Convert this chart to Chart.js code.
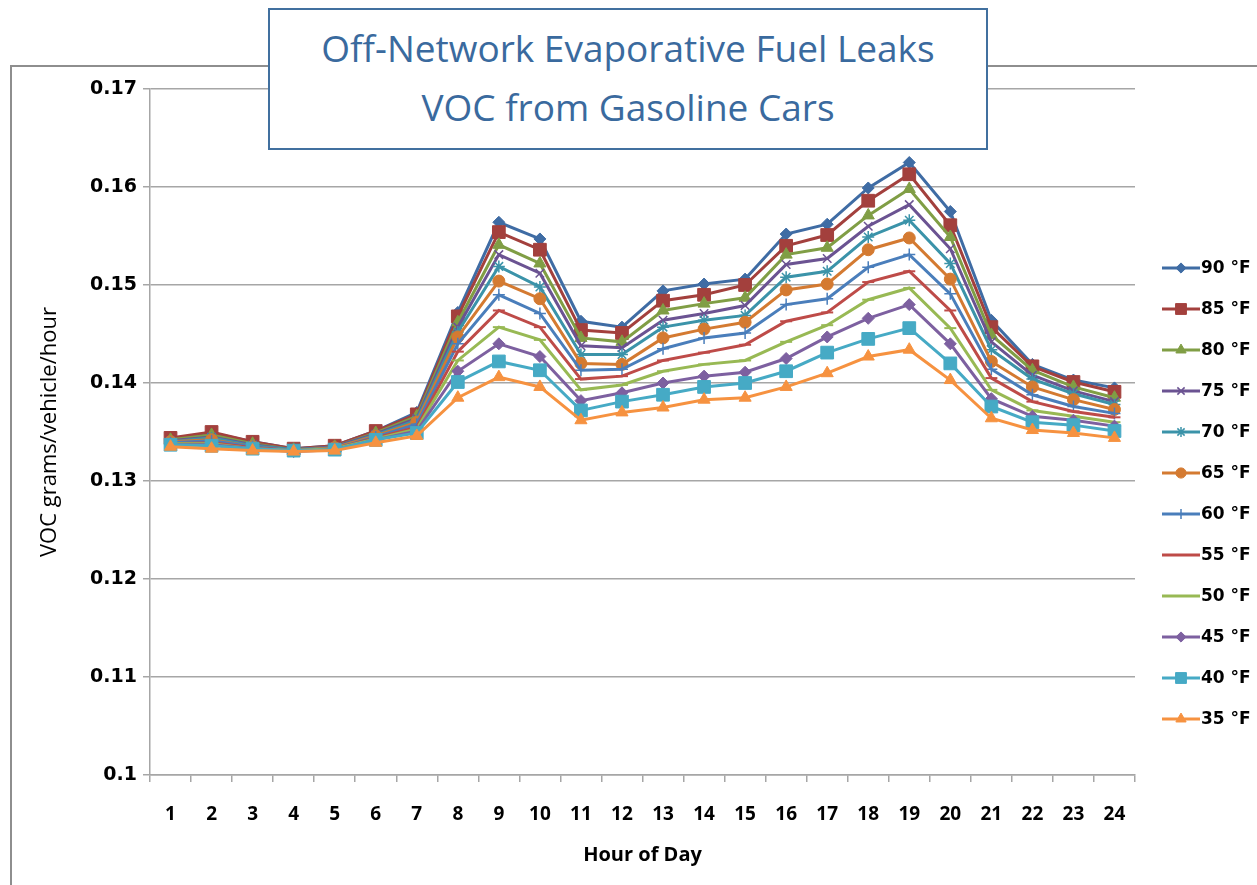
<!DOCTYPE html>
<html>
<head>
<meta charset="utf-8">
<title>Off-Network Evaporative Fuel Leaks</title>
<script src="https://cdn.jsdelivr.net/npm/chart.js"></script>
<style>
  html, body { margin: 0; padding: 0; background: #fff; overflow: hidden; }
  .frame {
    position: absolute; left: 10px; top: 65px; width: 1300px; height: 900px;
    border: 2px solid #8e8e8e;
  }
  .chart-wrap { position: absolute; left: 0; top: 0; width: 1257px; height: 885px; }
  .title-box {
    position: absolute; left: 268px; top: 8px; width: 716px; height: 130px;
    border: 2px solid #41709f; background: #fff;
    color: #3a6a9e; font-family: "Open Sans", sans-serif; font-size: 37px;
    text-align: center; line-height: 59px; padding-top: 8px; box-sizing: content-box;
  }
</style>
</head>
<body>
<div class="frame"></div>
<div class="chart-wrap"><canvas id="vocChart"></canvas></div>
<div class="title-box">Off-Network Evaporative Fuel Leaks<br>VOC from Gasoline Cars</div>
<script>
// Hours of day and temperature series (VOC grams/vehicle/hour)
const hours = ['1','2','3','4','5','6','7','8','9','10','11','12','13','14','15','16','17','18','19','20','21','22','23','24'];
const yTicks = [0.1, 0.11, 0.12, 0.13, 0.14, 0.15, 0.16, 0.17];

const temp90 = [0.1343,0.1349,0.1340,0.1333,0.1336,0.1351,0.1370,0.1472,0.1564,0.1547,0.1463,0.1457,0.1494,0.1501,0.1506,0.1552,0.1562,0.1599,0.1625,0.1575,0.1464,0.1419,0.1403,0.1395];
const temp85 = [0.1344,0.1350,0.1340,0.1333,0.1336,0.1351,0.1368,0.1468,0.1554,0.1536,0.1454,0.1451,0.1484,0.1490,0.1500,0.1540,0.1551,0.1586,0.1613,0.1561,0.1457,0.1417,0.1401,0.1391];
const temp80 = [0.1342,0.1347,0.1338,0.1332,0.1335,0.1349,0.1366,0.1462,0.1541,0.1522,0.1446,0.1442,0.1474,0.1481,0.1487,0.1531,0.1538,0.1571,0.1598,0.1549,0.1449,0.1413,0.1396,0.1385];
const temp75 = [0.1341,0.1345,0.1337,0.1332,0.1335,0.1348,0.1364,0.1457,0.1531,0.1512,0.1438,0.1436,0.1464,0.1471,0.1479,0.1521,0.1527,0.1560,0.1582,0.1537,0.1442,0.1408,0.1392,0.1381];
const temp70 = [0.1340,0.1344,0.1336,0.1332,0.1334,0.1347,0.1362,0.1452,0.1519,0.1498,0.1429,0.1429,0.1457,0.1464,0.1469,0.1508,0.1514,0.1549,0.1566,0.1522,0.1434,0.1404,0.1389,0.1378];
const temp65 = [0.1340,0.1342,0.1335,0.1331,0.1334,0.1346,0.1360,0.1447,0.1504,0.1486,0.1420,0.1419,0.1446,0.1455,0.1462,0.1495,0.1501,0.1536,0.1548,0.1506,0.1422,0.1396,0.1383,0.1373];
const temp60 = [0.1339,0.1341,0.1335,0.1331,0.1333,0.1345,0.1358,0.1440,0.1490,0.1471,0.1413,0.1414,0.1435,0.1446,0.1451,0.1480,0.1486,0.1518,0.1531,0.1491,0.1414,0.1388,0.1376,0.1369];
const temp55 = [0.1338,0.1339,0.1334,0.1331,0.1333,0.1344,0.1355,0.1432,0.1474,0.1457,0.1404,0.1407,0.1423,0.1431,0.1439,0.1463,0.1472,0.1503,0.1514,0.1474,0.1405,0.1381,0.1371,0.1365];
const temp50 = [0.1338,0.1338,0.1333,0.1331,0.1333,0.1343,0.1353,0.1423,0.1457,0.1444,0.1393,0.1398,0.1412,0.1419,0.1423,0.1442,0.1459,0.1485,0.1497,0.1456,0.1393,0.1372,0.1366,0.1360];
const temp45 = [0.1337,0.1337,0.1333,0.1330,0.1332,0.1342,0.1351,0.1412,0.1440,0.1427,0.1382,0.1390,0.1400,0.1407,0.1411,0.1425,0.1447,0.1466,0.1480,0.1440,0.1384,0.1366,0.1362,0.1356];
const temp40 = [0.1337,0.1336,0.1333,0.1331,0.1332,0.1342,0.1349,0.1401,0.1422,0.1413,0.1372,0.1381,0.1388,0.1396,0.1400,0.1412,0.1431,0.1445,0.1456,0.1420,0.1376,0.1360,0.1357,0.1351];
const temp35 = [0.1335,0.1333,0.1331,0.1330,0.1331,0.1339,0.1346,0.1385,0.1406,0.1396,0.1362,0.1370,0.1375,0.1383,0.1385,0.1396,0.1410,0.1427,0.1434,0.1403,0.1364,0.1352,0.1349,0.1344];

const seriesLabels = ['90 °F','85 °F','80 °F','75 °F','70 °F','65 °F','60 °F','55 °F','50 °F','45 °F','40 °F','35 °F'];
const seriesData = [temp90, temp85, temp80, temp75, temp70, temp65, temp60, temp55, temp50, temp45, temp40, temp35];

// Series styling (Excel-like colours and markers)
const colors = ['#3f6ca4','#a3403d','#809e45','#6b5392','#3b93a9','#d47a31','#4a7ebb','#be4b48','#98b954','#7d60a0','#46aac5','#f69240'];
const markers = [
  { style: 'rectRot',  r: 6, bw: 1 },
  { style: 'rect',     r: 9, bw: 1 },
  { style: 'triangle', r: 7, bw: 1 },
  { style: 'crossRot', r: 6, bw: 1.5 },
  { style: 'star',     r: 6, bw: 1.5 },
  { style: 'circle',   r: 6, bw: 1 },
  { style: 'cross',    r: 6, bw: 1.5 },
  { style: 'line',     r: 6, bw: 2 },
  { style: 'line',     r: 6, bw: 2 },
  { style: 'rectRot',  r: 6, bw: 1 },
  { style: 'rect',     r: 9, bw: 1 },
  { style: 'triangle', r: 7, bw: 1 }
];

// Legend drawn on the right like the original (line + marker + label)
const sideLegend = {
  id: 'sideLegend',
  afterDraw(chart) {
    const ctx = chart.ctx;
    const x0 = 1162, y0 = 268, step = 41, len = 38;
    ctx.save();
    chart.data.datasets.forEach((ds, i) => {
      const y = y0 + i * step;
      ctx.strokeStyle = ds.borderColor;
      ctx.lineWidth = 3;
      ctx.beginPath();
      ctx.moveTo(x0, y);
      ctx.lineTo(x0 + len, y);
      ctx.stroke();
      ctx.fillStyle = ds.borderColor;
      ctx.lineWidth = ds.pointBorderWidth;
      if (Chart.helpers && Chart.helpers.drawPoint) {
        Chart.helpers.drawPoint(ctx, {
          pointStyle: ds.pointStyle,
          radius: ds.pointRadius * 0.85,
          borderWidth: ds.pointBorderWidth,
          rotation: 0
        }, x0 + len / 2, y);
      }
      ctx.fillStyle = '#000';
      ctx.font = 'bold 17px "DejaVu Sans", sans-serif';
      ctx.textBaseline = 'middle';
      ctx.textAlign = 'left';
      ctx.fillText(ds.label, x0 + len + 1, y + 1);
    });
    ctx.restore();
  }
};

const datasets = seriesLabels.map((label, i) => ({
  label: label,
  data: seriesData[i],
  borderColor: colors[i],
  backgroundColor: colors[i],
  borderWidth: 3,
  tension: 0,
  pointStyle: markers[i].style,
  pointRadius: markers[i].r,
  pointBorderWidth: markers[i].bw,
  pointBackgroundColor: colors[i],
  pointBorderColor: colors[i],
  order: seriesLabels.length - i
}));

const gridColor = '#a6a6a6';

new Chart(document.getElementById('vocChart'), {
  type: 'line',
  data: { labels: hours, datasets: datasets },
  options: {
    responsive: true,
    maintainAspectRatio: false,
    animation: false,
    layout: { padding: { top: 89, right: 122, bottom: 10, left: 20 } },
    plugins: {
      legend: { display: false },
      tooltip: { enabled: false },
      title: { display: false }
    },
    scales: {
      x: {
        offset: true,
        grid: { drawOnChartArea: false, offset: true, tickLength: 7, color: gridColor, lineWidth: 1.5 },
        border: { color: gridColor, width: 1.5 },
        ticks: {
          color: '#000', padding: 21, maxRotation: 0, autoSkip: false,
          font: { family: '"Open Sans", sans-serif', size: 19, weight: 'bold' }
        },
        title: {
          display: true, text: 'Hour of Day', color: '#000',
          font: { family: '"Open Sans", sans-serif', size: 20, weight: 'bold' },
          padding: { top: 0, bottom: 8 }
        },
        afterFit: (scale) => { scale.height = 100; }
      },
      y: {
        min: yTicks[0],
        max: yTicks[yTicks.length - 1],
        afterBuildTicks: (scale) => { scale.ticks = yTicks.map(v => ({ value: v })); },
        grid: { color: gridColor, lineWidth: 1.5, tickLength: 7 },
        border: { color: gridColor, width: 1.5 },
        ticks: {
          color: '#000', padding: 6,
          font: { family: '"DejaVu Sans", sans-serif', size: 19, weight: 'bold' },
          callback: (v) => String(+Number(v).toFixed(2))
        },
        title: {
          display: true, text: 'VOC grams/vehicle/hour', color: '#000',
          font: { family: '"Open Sans", sans-serif', size: 22 },
          padding: { top: 17, bottom: 0 }
        },
        afterFit: (scale) => { scale.width = 130; }
      }
    }
  },
  plugins: [sideLegend]
});
</script>
</body>
</html>
